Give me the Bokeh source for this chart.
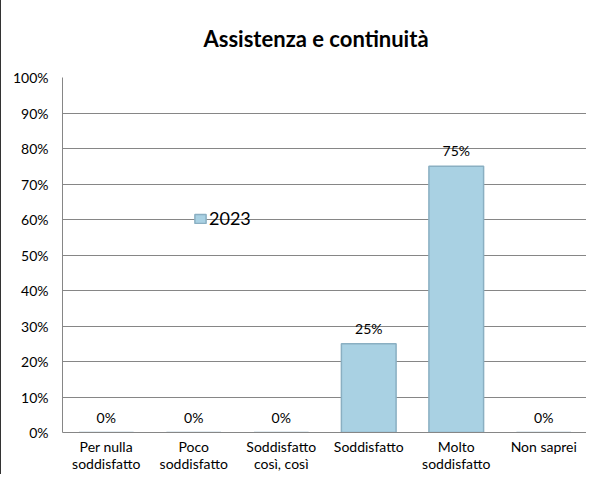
from bokeh.plotting import figure
from bokeh.models import (ColumnDataSource, FactorRange, Range1d, NumeralTickFormatter,
                          LabelSet, Legend, LegendItem, FixedTicker)
from bokeh.core.properties import value
from bokeh.embed import file_html
from bokeh.resources import INLINE

title_text = "Assistenza e continuità"
categories = ["Per nulla\nsoddisfatto", "Poco\nsoddisfatto", "Soddisfatto\ncosì, così",
              "Soddisfatto", "Molto\nsoddisfatto", "Non saprei"]
values_2023 = [0.0, 0.0, 0.0, 0.25, 0.75, 0.0]
series_name = "2023"
y_ticks = [0.0, 0.1, 0.2, 0.3, 0.4, 0.5, 0.6, 0.7, 0.8, 0.9, 1.0]

FONT = "Lato"
GRID = "#868686"
W, H = 586, 474

src = ColumnDataSource(data=dict(
    cat=categories,
    val=values_2023,
    lbl=[f"{round(v * 100)}%" for v in values_2023],
))

p = figure(x_range=FactorRange(*categories, range_padding=0), y_range=Range1d(0, 1),
           width=W, height=H, output_backend="svg", toolbar_location=None,
           min_border_left=61, min_border_right=0, min_border_top=77, min_border_bottom=40)

p.title.text = title_text
p.title.text_font = FONT
p.title.text_font_size = "22px"
p.title.text_font_style = "bold"
p.title.text_color = "#000000"
p.title.align = "left"
p.title.vertical_align = "top"
p.title.offset = 141
p.title.standoff = 48

p.outline_line_color = None
p.background_fill_color = "white"
p.border_fill_color = "white"
p.styles = {"border-left": "1px solid #333333"}

p.xgrid.visible = False
p.ygrid.ticker = FixedTicker(ticks=y_ticks)
p.ygrid.grid_line_color = GRID
p.ygrid.grid_line_width = 1

p.yaxis.ticker = FixedTicker(ticks=y_ticks)
p.yaxis.formatter = NumeralTickFormatter(format="0%")
p.yaxis.axis_line_color = GRID
p.yaxis.major_tick_line_color = None
p.yaxis.minor_tick_line_color = None
p.yaxis.major_tick_out = 0
p.yaxis.minor_tick_out = 0
p.yaxis.major_label_standoff = 14
p.yaxis.major_label_text_font = FONT
p.yaxis.major_label_text_font_size = "14px"
p.yaxis.major_label_text_color = "#000000"

p.xaxis.axis_line_color = GRID
p.xaxis.major_tick_line_color = None
p.xaxis.minor_tick_line_color = None
p.xaxis.major_tick_out = 0
p.xaxis.minor_tick_out = 0
p.xaxis.major_label_standoff = 5
p.xaxis.major_label_text_font = FONT
p.xaxis.major_label_text_font_size = "14px"
p.xaxis.major_label_text_line_height = 1.0
p.xaxis.major_label_text_color = "#000000"

r = p.vbar(x="cat", top="val", width=0.625, source=src,
           fill_color="#A9D1E3", line_color="#8AAFC2", line_width=1.5)

labels = LabelSet(x="cat", y="val", text="lbl", source=src, text_align="center",
                  text_baseline="bottom", y_offset=7, text_font=value(FONT),
                  text_font_size=value("14px"), text_color="#000000")
p.add_layout(labels)

legend = Legend(items=[LegendItem(label=series_name, renderers=[r])],
                location=(131, 203), border_line_color=None, background_fill_alpha=0,
                padding=0, margin=0, glyph_width=14, glyph_height=11, label_standoff=2,
                label_text_font=FONT, label_text_font_size="18px", label_text_color="#000000")
p.add_layout(legend)

open("out.html", "w").write(file_html(p, INLINE))
